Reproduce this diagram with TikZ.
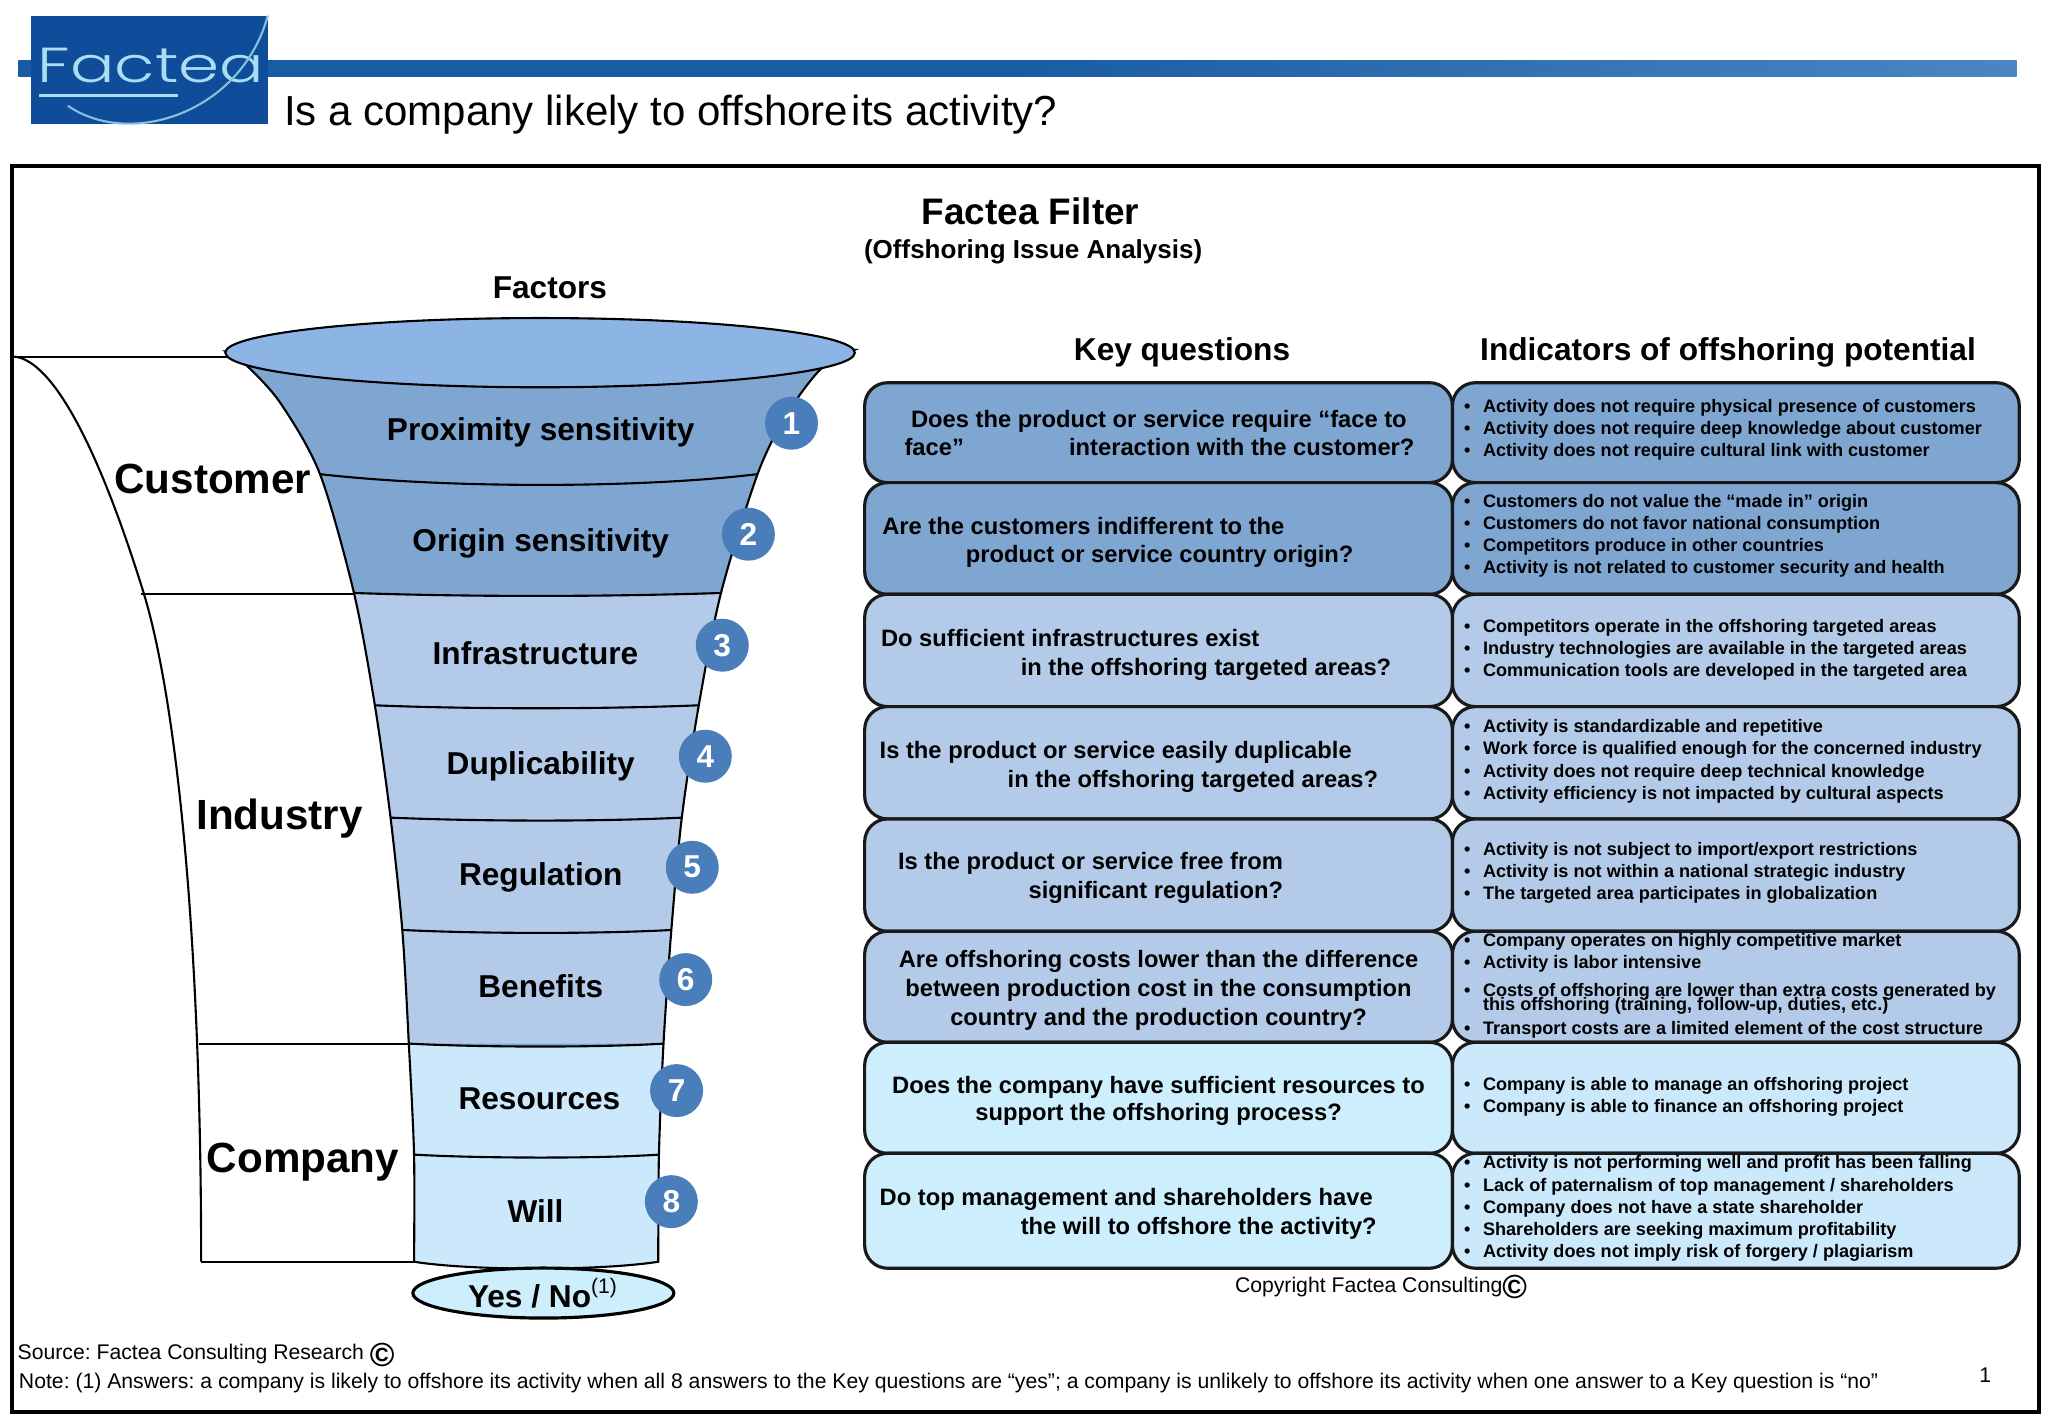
\documentclass[tikz,border=0pt]{standalone}
\usepackage{fontspec}
\setmainfont{Liberation Sans}
\newfontfamily\logofont{Poppins Light}
\usetikzlibrary{shapes.geometric}
\definecolor{barblue}{HTML}{1A5CA3}
\definecolor{barlight}{HTML}{4A86C3}
\definecolor{logoblue}{HTML}{0F4C99}
\definecolor{logoline}{HTML}{A8DDF2}
\definecolor{lipblue}{HTML}{8CB4E5}
\definecolor{darkrow}{HTML}{7EA6D1}
\definecolor{midrow}{HTML}{B3CBE8}
\definecolor{paleRow}{HTML}{CCE9FC}
\definecolor{paleQ}{HTML}{CDEFFD}
\definecolor{ansfill}{HTML}{CCEFFB}
\definecolor{badgeblue}{HTML}{4A7EBB}
\newcommand{\ibul}{\makebox[4.8pt][l]{\kern-0.6pt\textbullet}}
\newcommand{\copymark}{\smash{\raisebox{-1.8pt}{\fontsize{9.5}{10}\selectfont\bfseries ©}}}

\begin{document}
\begin{tikzpicture}[
    x=1.3061cm, y=1.3061cm,
    wall/.style={draw=black, line width=0.6pt},
    sep/.style={draw=black, line width=0.6pt},
    rowbox/.style={draw=black!90, line width=0.9pt, rounded corners=0.23cm},
    heading/.style={font=\fontsize{9}{11}\selectfont\bfseries, inner sep=0pt},
    group/.style={font=\fontsize{12}{14}\selectfont\bfseries, inner sep=0pt},
    factor/.style={font=\fontsize{9}{11}\selectfont\bfseries, inner sep=0pt},
    badge/.style={
        circle, fill=badgeblue, text=white, inner sep=0pt,
        minimum size=0.53cm, font=\fontsize{9}{11}\selectfont\bfseries},
    qtext/.style={
        font=\fontsize{6.75}{8.2}\selectfont\bfseries, inner sep=0pt,
        text height=1.5ex, text depth=0.4ex, yshift=0.7pt},
    qline/.style={qtext, anchor=west},
    ilist/.style={
        anchor=west, align=left, inner sep=0pt, yshift=-0.5pt,
        font=\fontsize{5.15}{6.3}\selectfont\bfseries},
    small/.style={font=\fontsize{6.03}{8}\selectfont\frenchspacing, anchor=west, inner sep=0pt}
]

%% ── Page limits ─────────────────────────────────────────────────
\useasboundingbox (0,0) rectangle (15.68,10.86);

%% ── Header bar and logo ─────────────────────────────────────────
\shade[left color=barblue, right color=barlight, middle color=barblue]
    (0.14,10.40) rectangle (15.44,10.276);
\fill[logoblue] (0.24,10.74) rectangle (2.05,9.91);
\node[text=logoline, inner sep=0pt, font=\fontsize{14}{17}\selectfont\logofont] (logo)
    at (1.155,10.36) {\scalebox{1.34}[1]{Factea}};
\draw[logoline, line width=0.9pt] (0.30,10.13) -- (1.36,10.13);
\draw[logoline!80!logoblue, line width=0.6pt]
    (2.05,10.74) .. controls (1.85,10.0) and (1.0,9.72) .. (0.52,10.05);
\node[anchor=west, inner sep=0pt, font=\fontsize{11.95}{14}\selectfont] (title)
    at (2.17,9.98) {Is a company likely to {\spaceskip=1pt offshore its} activity?};

%% ── Outer frame ─────────────────────────────────────────────────
\draw[line width=1.2pt] (0.09,9.59) rectangle (15.61,0.05);

%% ── Headings ────────────────────────────────────────────────────
\node[inner sep=0pt, font=\fontsize{10.5}{12}\selectfont\bfseries] (filter) at (7.89,9.24) {Factea Filter};
\node[inner sep=0pt, font=\fontsize{7.4}{9}\selectfont\bfseries] (subfilter) at (7.91,8.935) {(Offshoring Issue Analysis)};
\node[heading] (factors) at (4.21,8.66) {Factors};
\node[heading] (keyq) at (9.05,8.16) {Key questions};
\node[heading] (indic) at (13.23,8.16) {Indicators of offshoring potential};

%% ── Left wall of the funnel stand ───────────────────────────────
\draw[wall] (0.11,8.13) .. controls (0.40,8.10) and (0.75,7.45) .. (1.10,6.32)
    .. controls (1.35,5.5) and (1.54,3.7) .. (1.54,1.20);
\draw[wall] (0.11,8.13) -- (1.80,8.13);
\draw[wall] (1.08,6.31) -- (2.71,6.31);
\draw[wall] (1.52,2.87) -- (3.13,2.87);
\draw[wall] (1.54,1.20) -- (3.17,1.20);

%% ── Funnel body ─────────────────────────────────────────────────
\path[save path=\funnelpath]
    plot[smooth] coordinates {(1.73,8.17) (1.89,8.06) (2.15,7.77) (2.45,7.23) (2.71,6.32)
        (2.87,5.46) (2.99,4.60) (3.08,3.74) (3.13,2.87) (3.17,2.02) (3.17,1.20)}
    .. controls (3.6,1.13) and (4.6,1.13) .. (5.04,1.20)
    -- plot[smooth] coordinates {(5.04,1.20) (5.045,2.02) (5.08,2.87) (5.14,3.74) (5.22,4.60)
        (5.35,5.46) (5.52,6.32) (5.80,7.23) (6.02,7.68) (6.28,8.03) (6.54,8.18)}
    -- cycle;
\begin{scope}
    \path[clip, use path=\funnelpath];
    \fill[darkrow] (1.5,8.3) rectangle (6.7,1.0);
    \fill[midrow] (2.5,6.32) .. controls (3.5,6.29) and (4.7,6.29) .. (5.7,6.32)
        -- (5.7,2.87) -- (2.5,2.87) -- cycle;
    \fill[paleRow] (2.9,2.87) .. controls (3.6,2.84) and (4.6,2.84) .. (5.3,2.87)
        -- (5.3,1.0) -- (2.9,1.0) -- cycle;
\end{scope}
\draw[wall, use path=\funnelpath];

%% ── Separators between the factors ──────────────────────────────
\draw[sep] (2.45,7.23) .. controls (3.4,7.12) and (4.9,7.12) .. (5.80,7.23);
\draw[sep] (2.71,6.32) .. controls (3.6,6.29) and (4.6,6.29) .. (5.52,6.32);
\draw[sep] (2.87,5.46) .. controls (3.6,5.43) and (4.6,5.43) .. (5.35,5.46);
\draw[sep] (2.99,4.60) .. controls (3.7,4.57) and (4.6,4.57) .. (5.22,4.60);
\draw[sep] (3.08,3.74) .. controls (3.7,3.71) and (4.6,3.71) .. (5.14,3.74);
\draw[sep] (3.13,2.87) .. controls (3.7,2.84) and (4.6,2.84) .. (5.08,2.87);
\draw[sep] (3.17,2.02) .. controls (3.7,1.99) and (4.6,1.99) .. (5.045,2.02);

%% ── Funnel mouth and answer ─────────────────────────────────────
\draw[wall, fill=lipblue] (4.135,8.16) ellipse [x radius=2.41, y radius=0.265];
\node[ellipse, draw=black, line width=0.9pt, fill=ansfill, inner sep=0pt,
      minimum width=2.61cm, minimum height=0.50cm,
      font=\fontsize{9}{11}\selectfont\bfseries] (answer)
    at (4.16,0.96) {Yes / No\textsuperscript{\normalfont (1)}};

%% ── Factor labels ───────────────────────────────────────────────
\node[factor] (proximity) at (4.14,7.55) {Proximity sensitivity};
\node[factor] (origin)    at (4.14,6.70) {Origin sensitivity};
\node[factor] (infra)     at (4.10,5.86) {Infrastructure};
\node[factor] (dupli)     at (4.14,4.99) {Duplicability};
\node[factor] (regul)     at (4.14,4.14) {Regulation};
\node[factor] (benef)     at (4.14,3.31) {Benefits};
\node[factor] (resour)    at (4.13,2.45) {Resources};
\node[factor] (will)      at (4.10,1.59) {Will};

%% ── Numbered badges ─────────────────────────────────────────────
\node[badge] (b1) at (6.06,7.62) {1};
\node[badge] (b2) at (5.73,6.77) {2};
\node[badge] (b3) at (5.53,5.92) {3};
\node[badge] (b4) at (5.40,5.07) {4};
\node[badge] (b5) at (5.30,4.22) {5};
\node[badge] (b6) at (5.25,3.36) {6};
\node[badge] (b7) at (5.18,2.51) {7};
\node[badge] (b8) at (5.14,1.66) {8};

%% ── Groups ──────────────────────────────────────────────────────
\node[group] (customer) at (1.63,7.19) {Customer};
\node[group] (industry) at (2.14,4.59) {Industry};
\node[group] (company)  at (2.32,1.96) {Company};

%% ── Question boxes ──────────────────────────────────────────────
\draw[rowbox, fill=darkrow] (6.62,7.93) rectangle (11.12,7.165);
\draw[rowbox, fill=darkrow] (6.62,7.165) rectangle (11.12,6.31);
\draw[rowbox, fill=midrow] (6.62,6.31) rectangle (11.12,5.45);
\draw[rowbox, fill=midrow] (6.62,5.45) rectangle (11.12,4.59);
\draw[rowbox, fill=midrow] (6.62,4.59) rectangle (11.12,3.73);
\draw[rowbox, fill=midrow] (6.62,3.73) rectangle (11.12,2.88);
\draw[rowbox, fill=paleQ] (6.62,2.88) rectangle (11.12,2.03);
\draw[rowbox, fill=paleQ] (6.62,2.03) rectangle (11.12,1.15);

%% ── Indicator boxes ─────────────────────────────────────────────
\draw[rowbox, fill=darkrow] (11.12,7.93) rectangle (15.46,7.165);
\draw[rowbox, fill=darkrow] (11.12,7.165) rectangle (15.46,6.31);
\draw[rowbox, fill=midrow] (11.12,6.31) rectangle (15.46,5.45);
\draw[rowbox, fill=midrow] (11.12,5.45) rectangle (15.46,4.59);
\draw[rowbox, fill=midrow] (11.12,4.59) rectangle (15.46,3.73);
\draw[rowbox, fill=midrow] (11.12,3.73) rectangle (15.46,2.88);
\draw[rowbox, fill=paleRow] (11.12,2.88) rectangle (15.46,2.03);
\draw[rowbox, fill=paleRow] (11.12,2.03) rectangle (15.46,1.15);

%% ── Question texts ──────────────────────────────────────────────
\node[qline] (q1a) at (6.97,7.65) {Does the product or service require “face to};
\node[qline] (q1b) at (6.92,7.43) {face”};
\node[qline] (q1c) at (8.18,7.43) {interaction with the customer?};
\node[qline] (q2a) at (6.75,6.83) {Are the customers indifferent to the};
\node[qline] (q2b) at (7.39,6.61) {product or service country origin?};
\node[qline] (q3a) at (6.74,5.97) {Do sufficient infrastructures exist};
\node[qline] (q3b) at (7.81,5.75) {in the offshoring targeted areas?};
\node[qline] (q4a) at (6.73,5.11) {Is the product or service easily duplicable};
\node[qline] (q4b) at (7.71,4.89) {in the offshoring targeted areas?};
\node[qline] (q5a) at (6.87,4.26) {Is the product or service free from};
\node[qline] (q5b) at (7.87,4.04) {significant regulation?};
\node[qtext] (q6a) at (8.87,3.51) {Are offshoring costs lower than the difference};
\node[qtext] (q6b) at (8.87,3.29) {between production cost in the consumption};
\node[qtext] (q6c) at (8.87,3.07) {country and the production country?};
\node[qtext] (q7a) at (8.87,2.55) {Does the company have sufficient resources to};
\node[qtext] (q7b) at (8.87,2.34) {support the offshoring process?};
\node[qline] (q8a) at (6.73,1.69) {Do top management and shareholders have};
\node[qline] (q8b) at (7.81,1.47) {the will to offshore the activity?};

%% ── Indicator texts ─────────────────────────────────────────────
\node[ilist] (i1) at (11.22,7.58) {\ibul Activity does not require physical presence of customers\\
    \ibul Activity does not require deep knowledge about customer\\
    \ibul Activity does not require cultural link with customer};
\node[ilist] (i2) at (11.22,6.77) {\ibul Customers do not value the “made in” origin\\
    \ibul Customers do not favor national consumption\\
    \ibul Competitors produce in other countries\\
    \ibul Activity is not related to customer security and health};
\node[ilist] (i3) at (11.22,5.90) {\ibul Competitors operate in the offshoring targeted areas\\
    \ibul Industry technologies are available in the targeted areas\\
    \ibul Communication tools are developed in the targeted area};
\node[ilist] (i4) at (11.22,5.045) {\ibul Activity is standardizable and repetitive\\
    \ibul Work force is qualified enough for the concerned industry\\
    \ibul Activity does not require deep technical knowledge\\
    \ibul Activity efficiency is not impacted by cultural aspects};
\node[ilist] (i5) at (11.22,4.19) {\ibul Activity is not subject to import/export restrictions\\
    \ibul Activity is not within a national strategic industry\\
    \ibul The targeted area participates in globalization};
\node[ilist] (i6) at (11.22,3.325) {\ibul Company operates on highly competitive market\\
    \ibul Activity is labor intensive\\[1.5pt]
    \ibul Costs of offshoring are lower than extra costs generated by\\[-2.2pt]
    \hspace*{4.8pt}this offshoring (training, follow-up, duties, etc.)\\[0.4pt]
    \ibul Transport costs are a limited element of the cost structure};
\node[ilist] (i7) at (11.22,2.475) {\ibul Company is able to manage an offshoring project\\
    \ibul Company is able to finance an offshoring project};
\node[ilist] (i8) at (11.22,1.62) {\ibul Activity is not performing well and profit has been falling\\
    \ibul Lack of paternalism of top management / shareholders\\
    \ibul Company does not have a state shareholder\\
    \ibul Shareholders are seeking maximum profitability\\
    \ibul Activity does not imply risk of forgery / plagiarism};

%% ── Footer ──────────────────────────────────────────────────────
\node[small] (copyr) at (9.45,1.005) {Copyright Factea Consulting\copymark};
\node[small] (source) at (0.13,0.49) {Source: Factea Consulting Research \copymark};
\node[small] (note) at (0.14,0.27) {Note: (1) Answers: a company is likely to offshore its activity when all 8 answers to the Key questions are “yes”; a company is unlikely to offshore its activity when one answer to a Key question is “no”};
\node[small, anchor=center] (page) at (15.20,0.33) {1};

\end{tikzpicture}
\end{document}
